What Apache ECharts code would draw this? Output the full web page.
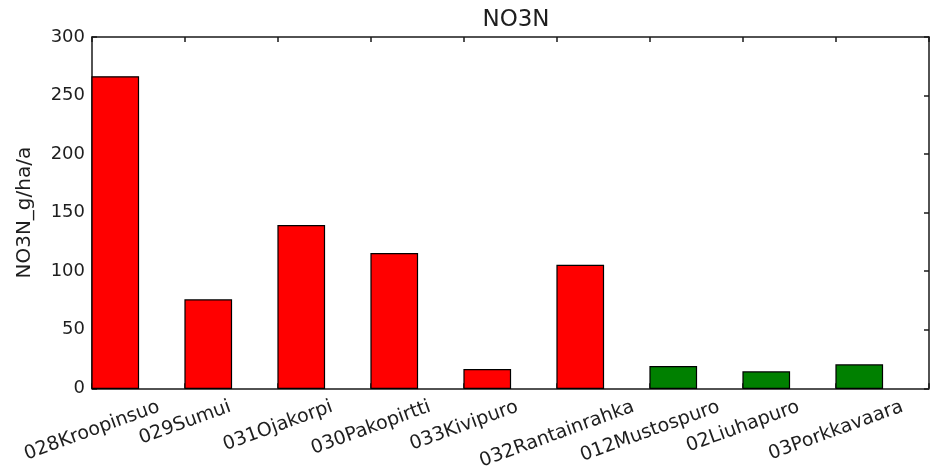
<!DOCTYPE html>
<html>
<head>
<meta charset="utf-8">
<script src="https://cdn.jsdelivr.net/npm/echarts@6/dist/echarts.min.js"></script>
<style>
  html, body { margin: 0; padding: 0; background: #fff; }
  #chart { width: 935px; height: 472px; }
</style>
</head>
<body>
<div id="chart"></div>
<script>
// Nitrate-nitrogen load per catchment
const sites = ['028Kroopinsuo', '029Sumui', '031Ojakorpi', '030Pakopirtti', '033Kivipuro',
               '032Rantainrahka', '012Mustospuro', '02Liuhapuro', '03Porkkavaara'];
const no3n = [266, 75.5, 139, 115, 16, 105, 18.5, 14, 20];
// 0 = first site group (red), 1 = second site group (green)
const siteGroup = [0, 0, 0, 0, 0, 0, 1, 1, 1];
const yTicks = [0, 50, 100, 150, 200, 250, 300];

const FONT = '"DejaVu Sans", sans-serif';
const TEXT = '#1e1e1e';
const FRAME = '#1a1a1a';
const GROUP_COLORS = ['#ff0000', '#008000'];
const BAR_WIDTH = 0.5;          // bar width in x-axis units, bars start at each tick
const LABEL_ROT = 20;
const LABEL_SIZE = 19;

// Rotated tick labels hang below the axis with their top edge aligned;
// each label is pushed down by half of its rotated rise.
const rad = LABEL_ROT * Math.PI / 180;
const ctx = document.createElement('canvas').getContext('2d');
ctx.font = LABEL_SIZE + 'px ' + FONT;
const rich = {};
sites.forEach((s, i) => {
  const shift = ctx.measureText(s).width * Math.sin(rad) / 2;
  rich['p' + i] = {
    fontFamily: FONT, fontSize: LABEL_SIZE, color: TEXT,
    padding: [2 * shift * Math.cos(rad), 2 * shift * Math.sin(rad), 0, 0]
  };
});

const chart = echarts.init(document.getElementById('chart'), null, { renderer: 'canvas' });

const frameLine = { show: true, onZero: false, lineStyle: { color: FRAME, width: 1.5 } };
const innerTick = { show: true, inside: true, length: 5, lineStyle: { color: FRAME, width: 1.5 } };

chart.setOption({
  animation: false,
  backgroundColor: '#fff',
  title: {
    text: 'NO3N',
    left: 511, top: 4,
    textAlign: 'center',
    textStyle: { fontFamily: FONT, fontSize: 23, fontWeight: 'normal', color: TEXT }
  },
  grid: { left: 92, right: 6, top: 37, bottom: 83 },
  xAxis: [
    {
      type: 'value', position: 'bottom',
      min: 0, max: sites.length, interval: 1,
      axisLine: frameLine, axisTick: innerTick,
      splitLine: { show: false },
      axisLabel: {
        rotate: LABEL_ROT, margin: 18,
        align: 'center', verticalAlign: 'middle',
        showMinLabel: true, showMaxLabel: true,
        formatter: v => (sites[v] ? '{p' + v + '|' + sites[v] + '}' : ''),
        rich: rich
      }
    },
    {
      type: 'value', position: 'top',
      min: 0, max: sites.length, interval: 1,
      axisLine: frameLine, axisTick: innerTick,
      splitLine: { show: false }, axisLabel: { show: false }
    }
  ],
  yAxis: [
    {
      type: 'value', position: 'left',
      min: yTicks[0], max: yTicks[yTicks.length - 1], interval: yTicks[1] - yTicks[0],
      name: 'NO3N_g/ha/a', nameLocation: 'middle', nameGap: 57,
      nameTextStyle: { fontFamily: FONT, fontSize: 20, color: TEXT },
      axisLine: frameLine, axisTick: innerTick,
      splitLine: { show: false },
      axisLabel: { fontFamily: FONT, fontSize: 18, color: TEXT, margin: 7 }
    },
    {
      type: 'value', position: 'right',
      min: yTicks[0], max: yTicks[yTicks.length - 1], interval: yTicks[1] - yTicks[0],
      axisLine: frameLine, axisTick: innerTick,
      splitLine: { show: false }, axisLabel: { show: false }
    }
  ],
  series: [{
    type: 'custom',
    xAxisIndex: 0, yAxisIndex: 0,
    encode: { x: 0, y: 1 },
    data: sites.map((s, i) => [i, no3n[i], siteGroup[i]]),
    renderItem: (params, api) => {
      const topLeft = api.coord([api.value(0), api.value(1)]);
      const bottomRight = api.coord([api.value(0) + BAR_WIDTH, 0]);
      return {
        type: 'rect',
        shape: {
          x: topLeft[0], y: topLeft[1],
          width: bottomRight[0] - topLeft[0],
          height: bottomRight[1] - topLeft[1]
        },
        style: { fill: GROUP_COLORS[api.value(2)], stroke: '#000', lineWidth: 1.2 }
      };
    },
    z: 1
  }]
});
</script>
</body>
</html>
